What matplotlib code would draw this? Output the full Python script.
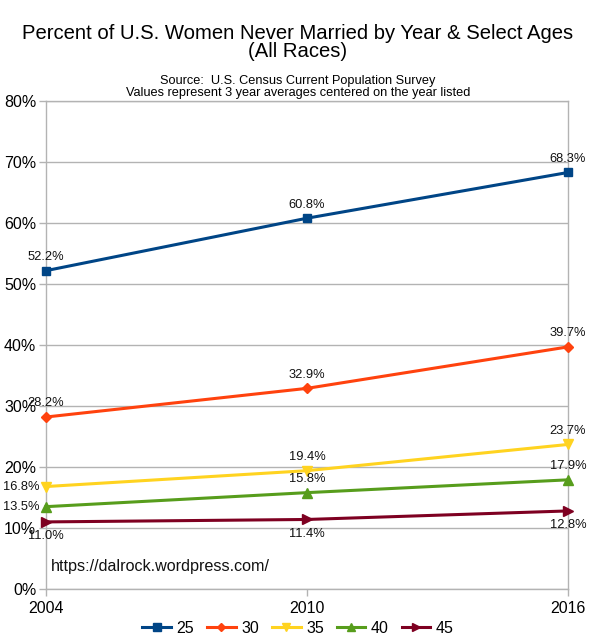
import matplotlib.pyplot as plt

plt.rcParams["font.family"] = ["Liberation Sans", "DejaVu Sans"]

years = [2004, 2010, 2016]
ages = ["25", "30", "35", "40", "45"]
age25 = [52.2, 60.8, 68.3]
age30 = [28.2, 32.9, 39.7]
age35 = [16.8, 19.4, 23.7]
age40 = [13.5, 15.8, 17.9]
age45 = [11.0, 11.4, 12.8]

series = [age25, age30, age35, age40, age45]
colors = ["#004586", "#ff420e", "#ffd320", "#579d1c", "#7e0021"]
markers = ["s", "D", "v", "^", ">"]
msizes = [6.2, 5, 7, 7, 7]
# where each point's label goes: (dx, dy, ha, va) in points
above = (0, 5.5, "center", "bottom")
below = (0, -6, "center", "top")
left = (-5, 0, "right", "center")
label_pos = [
    [above, above, above],
    [above, above, above],
    [left, above, above],
    [left, above, above],
    [below, below, below],
]

fig = plt.figure(figsize=(5.96, 6.4), dpi=100)
ax = fig.add_axes([0.0772, 0.0797, 0.8758, 0.7623])

for name, vals, c, m, ms, pos in zip(ages, series, colors, markers, msizes, label_pos):
    ax.plot(years, vals, color=c, marker=m, markersize=ms, linewidth=2.2,
            label=name, clip_on=False, zorder=3)
    for x, v, (dx, dy, ha, va) in zip(years, vals, pos):
        ax.annotate(f"{v:.1f}%", (x, v), xytext=(dx, dy), textcoords="offset points",
                    ha=ha, va=va, fontsize=9.3, color="#111111", zorder=4)

ax.set_xlim(2004, 2016)
ax.set_ylim(0, 80)
ax.set_xticks(years)
ax.set_yticks(range(0, 81, 10))
ax.set_yticklabels([f"{t}%" for t in range(0, 81, 10)])
ax.tick_params(axis="both", labelsize=11.5, color="#b3b3b3", length=5, width=1)
ax.tick_params(axis="y", pad=2)
ax.grid(axis="y", color="#b3b3b3", linewidth=1)
ax.set_axisbelow(True)
for s in ax.spines.values():
    s.set_color("#b3b3b3")
    s.set_linewidth(1)

ax.text(2004.12, 2.9, "https://dalrock.wordpress.com/", fontsize=11.6, color="#111111")

fig.text(0.5, 0.962, "Percent of U.S. Women Never Married by Year & Select Ages\n(All Races)",
         ha="center", va="top", fontsize=14.6, linespacing=0.92)
fig.text(0.5, 0.883, "Source:  U.S. Census Current Population Survey\nValues represent 3 year averages centered on the year listed",
         ha="center", va="top", fontsize=9.2, linespacing=1.05)

fig.legend(loc="lower center", bbox_to_anchor=(0.5, -0.016), ncol=5, frameon=False,
           fontsize=11.5, handlelength=1.8, columnspacing=0.8, handletextpad=0.35,
           markerscale=0.9)

fig.savefig("out.png", dpi=100)
